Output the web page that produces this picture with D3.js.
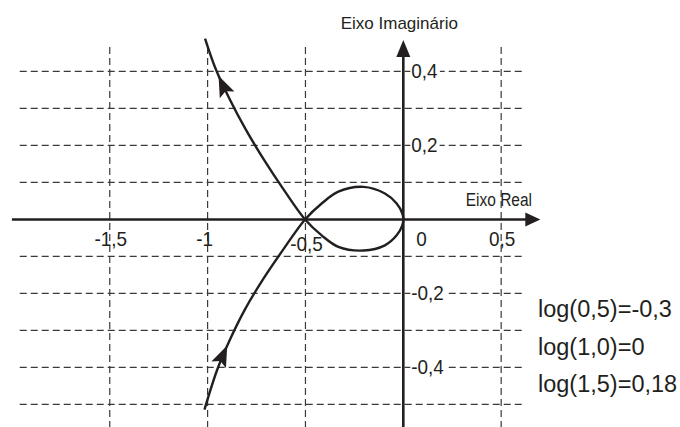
<!DOCTYPE html>
<html>
<head>
<meta charset="utf-8">
<script src="https://cdn.jsdelivr.net/npm/d3@7"></script>
<style>
  html, body { margin: 0; padding: 0; background: #fff; }
  svg { display: block; }
  text { font-family: "Liberation Sans", Arial, sans-serif; fill: #231f20; }
</style>
</head>
<body>
<svg id="chart" width="680" height="427"></svg>
<script>
// grid / tick values
const xGrid = [-1.5, -1, -0.5, 0.5];
const yGrid = [0.4, 0.3, 0.2, 0.1, -0.1, -0.2, -0.3, -0.4, -0.5];
const xTicks = [-1.5, -1, -0.5, 0, 0.5];
const xTickLabels = ["-1,5", "-1", "-0,5", "0", "0,5"];
const yTicks = [0.4, 0.2, -0.2, -0.4];
const yTickLabels = ["0,4", "0,2", "-0,2", "-0,4"];

// Nyquist curve (real, imaginary)
// lower branch -> upper lobe -> origin -> lower lobe -> upper branch
const curveRe = [-1.016, -0.950, -0.885, -0.809, -0.717, -0.613, -0.502,
  -0.417, -0.332, -0.204, -0.094, -0.034, -0.005, 0,
  -0.005, -0.034, -0.094, -0.204, -0.332, -0.417, -0.502,
  -0.613, -0.714, -0.806, -0.887, -0.958, -1.013];
const curveIm = [-0.514, -0.405, -0.324, -0.243, -0.162, -0.081, 0,
  0.043, 0.075, 0.088, 0.070, 0.043, 0.016, 0,
  -0.016, -0.043, -0.070, -0.084, -0.074, -0.043, 0,
  0.082, 0.163, 0.244, 0.325, 0.406, 0.489];

// arrowheads on the curve (tip positions)
const arrowRe = [-0.894, -0.937];
const arrowIm = [-0.342, 0.390];

const logLabels = ["log(0,5)=-0,3", "log(1,0)=0", "log(1,5)=0,18"];

const svg = d3.select("#chart");

const x = d3.scaleLinear().domain([-2.0, 0.7]).range([11.9, 540.3]);
const y = d3.scaleLinear().domain([-0.561, 0.485]).range([427, 40]);

// squeeze text a bit, like the condensed font in the original
function condense(sel, k) {
  sel.each(function() {
    const w = this.getComputedTextLength();
    d3.select(this).attr("textLength", w * k).attr("lengthAdjust", "spacingAndGlyphs");
  });
}

// dashed grid
const grid = svg.append("g")
  .attr("stroke", "#3a3a3a")
  .attr("stroke-width", 1.2)
  .attr("stroke-dasharray", "7,4");

grid.selectAll(".vg")
  .data(xGrid)
  .enter().append("line")
  .attr("x1", d => x(d)).attr("x2", d => x(d))
  .attr("y1", y(0.466)).attr("y2", y(-0.561));

grid.selectAll(".hg")
  .data(yGrid)
  .enter().append("line")
  .attr("x1", x(-1.96)).attr("x2", x(0.62))
  .attr("y1", d => y(d)).attr("y2", d => y(d));

// axes with arrows
const axisColor = "#231f20";
svg.append("line")
  .attr("x1", x(-2.0)).attr("x2", x(0.7) - 12)
  .attr("y1", y(0)).attr("y2", y(0))
  .attr("stroke", axisColor).attr("stroke-width", 2.6);
svg.append("path")
  .attr("d", `M${x(0.7)},${y(0)} L${x(0.7) - 15},${y(0) - 7} L${x(0.7) - 15},${y(0) + 7} Z`)
  .attr("fill", axisColor);

svg.append("line")
  .attr("x1", x(0)).attr("x2", x(0))
  .attr("y1", y(-0.561)).attr("y2", y(0.485) + 12)
  .attr("stroke", axisColor).attr("stroke-width", 2.6);
svg.append("path")
  .attr("d", `M${x(0)},${y(0.485)} L${x(0) - 7},${y(0.485) + 17} L${x(0) + 7},${y(0.485) + 17} Z`)
  .attr("fill", axisColor);

// curve
const pts = curveRe.map((r, i) => [r, curveIm[i]]);
const line = d3.line()
  .x(d => x(d[0]))
  .y(d => y(d[1]))
  .curve(d3.curveCatmullRom.alpha(0.5));

const curvePath = svg.append("path")
  .datum(pts)
  .attr("d", line)
  .attr("fill", "none")
  .attr("stroke", axisColor)
  .attr("stroke-width", 2.4)
  .attr("stroke-linejoin", "round");

// arrowheads placed along the curve, pointing in drawing direction
const node = curvePath.node();
const total = node.getTotalLength();
arrowRe.forEach((r, i) => {
  const tx = x(r), ty = y(arrowIm[i]);
  let best = 0, bestD = Infinity;
  for (let l = 0; l <= total; l += 0.5) {
    const p = node.getPointAtLength(l);
    const dd = (p.x - tx) ** 2 + (p.y - ty) ** 2;
    if (dd < bestD) { bestD = dd; best = l; }
  }
  const tip = node.getPointAtLength(best);
  const back = node.getPointAtLength(Math.max(0, best - 4));
  const ang = Math.atan2(tip.y - back.y, tip.x - back.x) * 180 / Math.PI;
  svg.append("path")
    .attr("d", "M0,0 L-21,-8 L-17,0 L-21,8 Z")
    .attr("transform", `translate(${tip.x},${tip.y}) rotate(${ang})`)
    .attr("fill", axisColor);
});

// x tick labels
const xl = svg.append("g").attr("font-size", 21);
xl.selectAll("text")
  .data(xTicks)
  .enter().append("text")
  .attr("x", d => d === 0 ? x(d) + 13 : x(d) + (d === -1 ? -3 : 1))
  .attr("y", d => d === -0.5 ? 251 : 246)
  .attr("text-anchor", d => d === 0 ? "start" : "middle")
  .text((d, i) => xTickLabels[i])
  .call(condense, 0.9);

// y tick labels with white backing
const yl = svg.append("g").attr("font-size", 21);
yTicks.forEach((v, i) => {
  const g = yl.append("g");
  const rect = g.append("rect").attr("fill", "#fff");
  const t = g.append("text")
    .attr("x", x(0) + 8)
    .attr("y", y(v) + 7)
    .text(yTickLabels[i])
    .call(condense, 0.9);
  const b = t.node().getBBox();
  rect.attr("x", b.x - 1).attr("y", b.y + 3).attr("width", b.width + 3).attr("height", b.height - 6);
});

// axis titles
svg.append("text")
  .attr("x", x(0) - 4)
  .attr("y", 29)
  .attr("text-anchor", "middle")
  .attr("font-size", 17)
  .text("Eixo Imaginário");

svg.append("text")
  .attr("x", 532)
  .attr("y", 206)
  .attr("text-anchor", "end")
  .attr("font-size", 18)
  .text("Eixo Real")
  .call(condense, 0.86);

// log notes on the right
svg.append("g")
  .attr("font-size", 23.5)
  .selectAll("text")
  .data(logLabels)
  .enter().append("text")
  .attr("x", 538)
  .attr("y", (d, i) => 317 + i * 37.5)
  .text(d => d);
</script>
</body>
</html>
